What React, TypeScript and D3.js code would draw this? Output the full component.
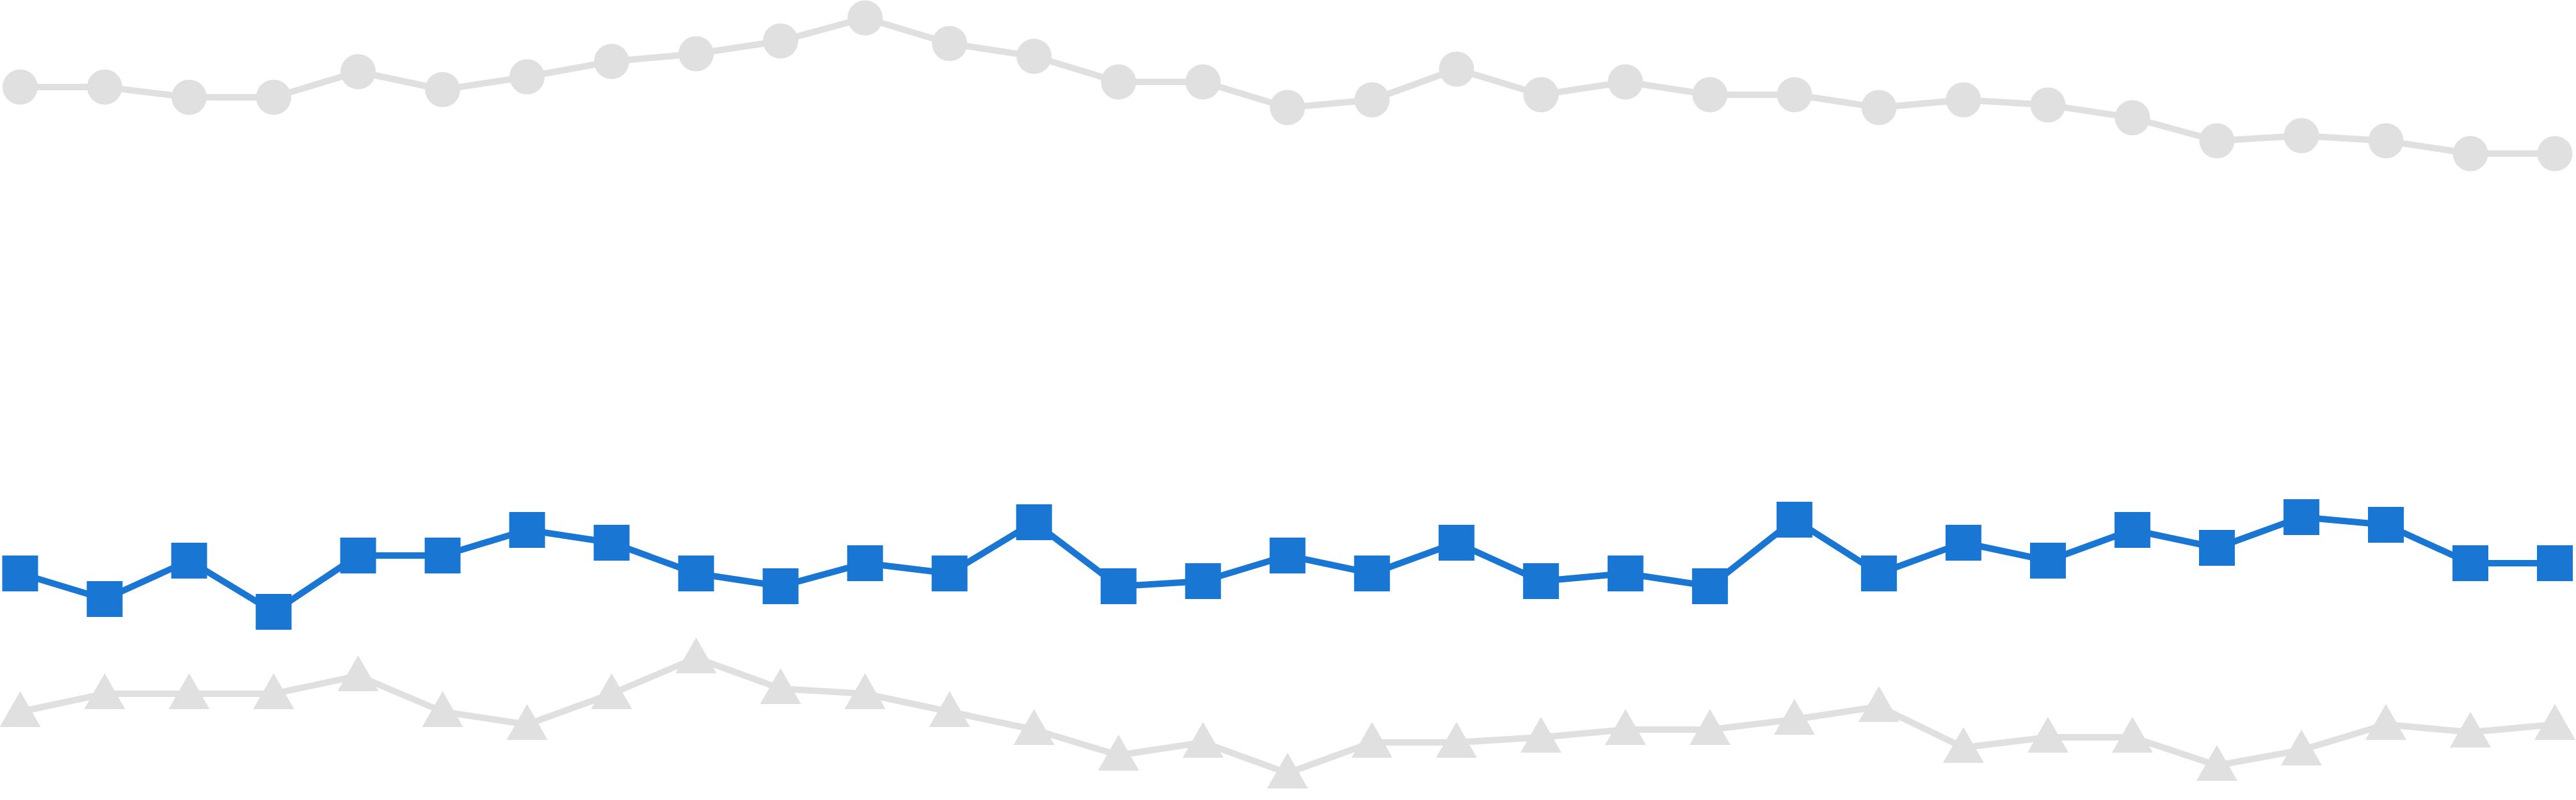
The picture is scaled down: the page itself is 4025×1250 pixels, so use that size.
import React, { useEffect, useRef } from "react";
import * as d3 from "d3";

// 31 points per series
const circleValues = [273, 273, 269, 269, 279, 272, 277, 283, 286, 291, 300, 290, 285, 275, 275, 265, 268, 280, 270, 275, 270, 270, 265, 268, 266, 261, 252, 254, 252, 247, 247];
const squareValues = [83, 73, 88, 68, 90, 90, 100, 95, 83, 78, 87, 83, 103, 78, 80, 90, 83, 95, 80, 83, 78, 104, 83, 95, 88, 100, 93, 105, 102, 87, 87];
const triangleValues = [29, 36, 36, 36, 43, 29, 24, 36, 50, 38, 36, 29, 22, 12, 17, 5, 17, 17, 19, 22, 22, 26, 31, 15, 19, 19, 8, 14, 24, 21, 24];

const W = 4025;
const H = 1250;
const gray = "#e0e0e0";
const blue = "#1976d2";

export default function App() {
  const ref = useRef<SVGSVGElement | null>(null);

  useEffect(() => {
    const svg = d3.select(ref.current);
    svg.selectAll("*").remove();

    const idx = d3.range(circleValues.length);
    const x = d3.scalePoint<number>().domain(idx).range([31.5, 3992]);
    const y = d3.scaleLinear().domain([0, 300]).range([1228, 28]);

    const line = d3
      .line<number>()
      .x((d, i) => x(i) as number)
      .y((d) => y(d));

    const series = [
      { values: circleValues, color: gray, shape: "circle" },
      { values: squareValues, color: blue, shape: "square" },
      { values: triangleValues, color: gray, shape: "triangle" },
    ];

    series.forEach((s) => {
      const g = svg.append("g");
      g.append("path")
        .attr("d", line(s.values))
        .attr("fill", "none")
        .attr("stroke", s.color)
        .attr("stroke-width", 10)
        .attr("stroke-linejoin", "round");

      const pts = g
        .selectAll(".pt")
        .data(s.values)
        .join("g")
        .attr("transform", (d, i) => `translate(${x(i)}, ${y(d)})`);

      if (s.shape === "circle") {
        pts.append("circle").attr("r", 27.5).attr("fill", s.color);
      } else if (s.shape === "square") {
        pts.append("rect")
          .attr("x", -28).attr("y", -28)
          .attr("width", 56).attr("height", 56)
          .attr("fill", s.color);
      } else {
        // apex sits 32px above the line, base 24px below
        pts.append("path")
          .attr("d", "M0,-32 L32,24 L-32,24 Z")
          .attr("fill", s.color);
      }
    });
  }, []);

  return (
    <svg
      ref={ref}
      width={W}
      height={H}
      style={{ position: "absolute", left: 0, top: 0, background: "#fff" }}
    />
  );
}
